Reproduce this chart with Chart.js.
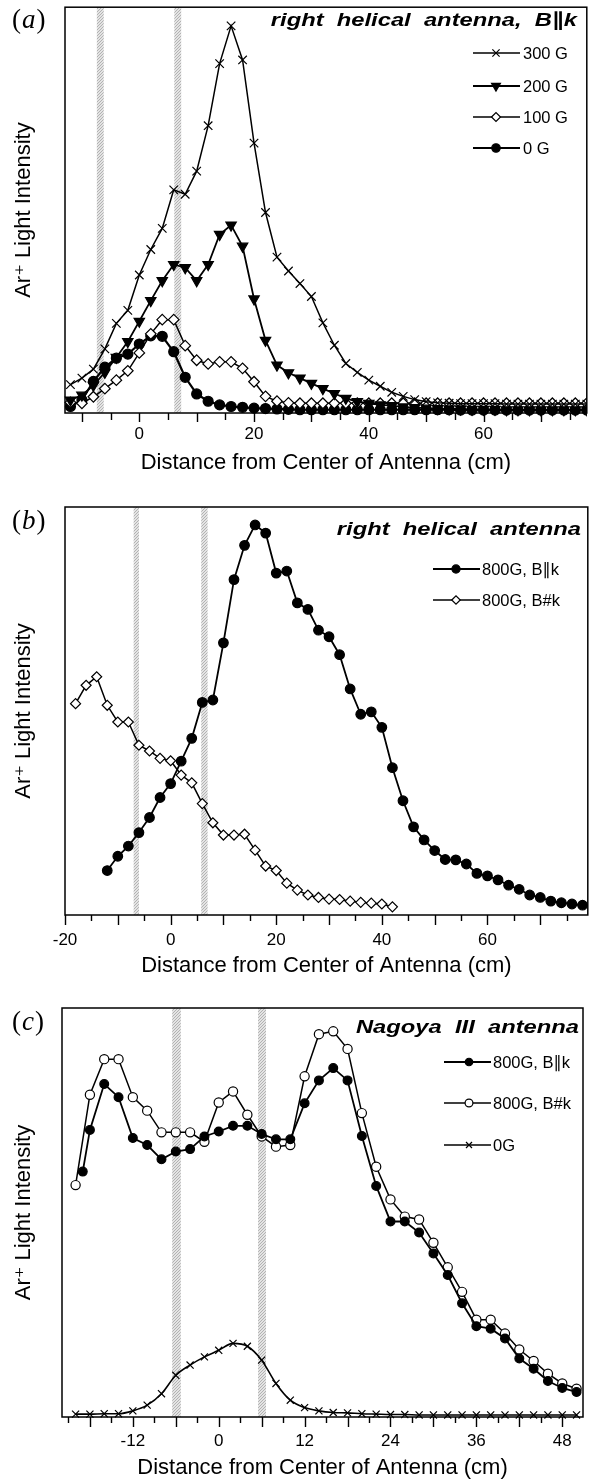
<!DOCTYPE html>
<html>
<head>
<meta charset="utf-8">
<script src="https://cdn.jsdelivr.net/npm/chart.js@4.4.0/dist/chart.umd.min.js"></script>
<style>
  body { margin: 0; background: #fff; width: 594px; height: 1483px; position: relative; overflow: hidden; }
  .panel { position: absolute; left: 0; width: 594px; }
</style>
</head>
<body>
<div class="panel" style="top:0px"><canvas id="chartA" width="594" height="483"></canvas></div>
<div class="panel" style="top:490px"><canvas id="chartB" width="594" height="500"></canvas></div>
<div class="panel" style="top:990px"><canvas id="chartC" width="594" height="493"></canvas></div>
<script>
// ---- panel (a): right helical antenna, B||k
const xA = [-12,-10,-8,-6,-4,-2,0,2,4,6,8,10,12,14,16,18,20,22,24,26,28,30,32,34,36,38,40,42,44,46,48,50,52,54,56,58,60,62,64,66,68,70,72,74,76,78];
const a300G = [7.0,8.6,10.8,15.8,22.1,25.3,34.0,40.3,45.5,55.0,53.9,59.6,70.8,86.1,95.4,87.0,66.5,49.4,38.4,35.0,31.9,28.7,22.2,16.7,12.2,10.0,8.1,6.6,5.1,4.1,3.3,2.8,2.5,2.4,2.3,2.3,2.3,2.3,2.2,2.2,2.2,2.2,2.2,2.2,2.2,2.2];
const a200G = [3.2,4.4,6.8,10.0,13.7,17.6,22.6,27.7,32.6,36.6,35.8,32.6,36.6,44.0,46.3,41.1,28.1,17.9,11.8,9.9,8.6,7.3,6.0,4.8,3.6,2.8,2.4,2.0,1.8,1.5,1.3,1.2,1.1,1.0,1.0,0.9,0.9,0.9,0.8,0.8,0.8,0.8,0.8,0.8,0.8,0.8];
const a100G = [2.6,2.4,4.0,6.0,8.1,10.4,14.8,19.5,23.0,23.0,16.6,13.0,12.1,12.6,12.6,11.0,7.7,4.1,2.9,2.5,2.4,2.4,2.4,2.4,2.4,2.4,2.4,2.4,2.4,2.4,2.4,2.4,2.4,2.4,2.4,2.4,2.4,2.4,2.4,2.4,2.4,2.4,2.4,2.4,2.4,2.4];
const a0G = [1.6,3.2,7.8,11.3,13.5,14.5,17.0,19.0,18.9,15.1,8.8,4.7,2.9,2.0,1.6,1.4,1.2,1.1,1.0,0.9,0.8,0.8,0.8,0.8,0.8,0.8,0.8,0.8,0.8,0.8,0.8,0.8,0.8,0.8,0.7,0.7,0.7,0.7,0.7,0.7,0.7,0.7,0.7,0.7,0.7,0.7];
const labelsA = [0, 20, 40, 60];
const bandsA = [[-7.4, -6.2], [6.1, 7.3]];

// ---- panel (b): right helical antenna, 800 G
const xB1 = [-12,-10,-8,-6,-4,-2,0,2,4,6,8,10,12,14,16,18,20,22,24,26,28,30,32,34,36,38,40,42,44,46,48,50,52,54,56,58,60,62,64,66,68,70,72,74,76,78];
const b800Par = [10.9,14.4,16.9,20.2,23.9,28.8,32.2,37.7,43.3,52.1,52.7,66.7,82.2,90.6,95.6,93.6,83.8,84.3,76.5,74.9,69.8,68.2,63.8,55.4,49.2,49.8,46.0,36.1,28.0,21.6,18.4,15.8,13.6,13.5,12.5,10.2,9.6,8.6,7.3,6.3,4.9,4.3,3.4,3.0,2.7,2.4];
const xB2 = [-18,-16,-14,-12,-10,-8,-6,-4,-2,0,2,4,6,8,10,12,14,16,18,20,22,24,26,28,30,32,34,36,38,40,42];
const b800Perp = [51.8,56.3,58.4,51.4,47.3,47.3,41.6,40.2,38.4,37.8,34.3,32.4,27.3,22.6,19.6,19.6,19.8,15.9,12.0,10.9,7.8,6.1,4.9,4.3,3.9,3.8,3.4,3.1,2.9,2.7,2.0];
const labelsB = [-20, 0, 20, 40, 60];
const bandsB = [[-7.0, -6.0], [5.8, 7.0]];

// ---- panel (c): Nagoya III antenna
const xC1 = [-19,-18,-16,-14,-12,-10,-8,-6,-4,-2,0,2,4,6,8,10,12,14,16,18,20,22,24,26,28,30,32,34,36,38,40,42,44,46,48,50];
const c800Par = [60.0,70.2,81.4,78.2,68.2,66.5,63.0,64.9,65.5,68.6,69.8,71.2,71.2,69.2,67.9,67.9,76.7,82.3,85.3,82.3,68.7,56.5,47.8,47.8,45.1,40.0,34.7,27.8,22.2,21.6,19.2,14.3,11.8,8.8,7.1,6.1];
const xC2 = [-20,-18,-16,-14,-12,-10,-8,-6,-4,-2,0,2,4,6,8,10,12,14,16,18,20,22,24,26,28,30,32,34,36,38,40,42,44,46,48,50];
const c800Perp = [56.7,78.8,87.5,87.5,78.2,74.9,69.6,69.6,69.6,67.3,76.9,79.6,73.9,68.6,66.1,66.5,83.3,93.6,94.3,90.0,74.3,61.2,53.2,49.0,48.3,42.6,36.6,30.6,23.8,23.8,20.4,16.5,13.7,10.6,8.2,6.9];
const c0G = [0.7,0.7,0.8,0.8,1.5,2.9,5.7,10.2,12.7,14.7,16.3,18.0,17.3,13.9,8.2,4.1,2.3,1.5,1.1,1.0,0.8,0.7,0.6,0.6,0.5,0.5,0.5,0.5,0.5,0.5,0.5,0.5,0.5,0.5,0.5,0.5];
const labelsC = [-12, 0, 12, 24, 36, 48];
const bandsC = [[-6.5, -5.3], [5.5, 6.6]];

const SANS = '"Liberation Sans", "DejaVu Sans", sans-serif';
Chart.defaults.color = '#000';
Chart.defaults.font.family = SANS;

function pts(xs, ys) {
  return xs.map((x, i) => ({x: x, y: ys[i]}));
}

function range(start, end, step) {
  const out = [];
  for (let v = start; v <= end + 1e-9; v += step) out.push(v);
  return out;
}

function series(label, xs, ys, style, opts) {
  return Object.assign({
    label: label,
    data: pts(xs, ys),
    borderColor: '#000',
    borderWidth: 1.6,
    pointStyle: style,
    pointRadius: 5,
    pointBorderColor: '#000',
    pointBackgroundColor: '#000',
    pointBorderWidth: 1.2,
    tension: 0,
    clip: {left: 8, top: 8, right: 0, bottom: 8}
  }, opts || {});
}

let stipple = null;
function getStipple(ctx) {
  if (stipple) return stipple;
  const pc = document.createElement('canvas');
  pc.width = 3; pc.height = 3;
  const p = pc.getContext('2d');
  p.fillStyle = '#e4e4e4'; p.fillRect(0, 0, 3, 3);
  p.fillStyle = '#b2b2b2';
  p.fillRect(0, 0, 1, 1); p.fillRect(2, 1, 1, 1); p.fillRect(1, 2, 1, 1);
  stipple = ctx.createPattern(pc, 'repeat');
  return stipple;
}

// bands, frame, ticks, panel tag, note and hand-made legend
const decor = {
  id: 'decor',
  beforeDatasetsDraw(chart, args, o) {
    const {ctx, chartArea: a, scales: {x}} = chart;
    ctx.save();
    ctx.fillStyle = getStipple(ctx);
    o.bands.forEach(b => {
      const l = x.getPixelForValue(b[0]), r = x.getPixelForValue(b[1]);
      ctx.fillRect(l, a.top, r - l, a.bottom - a.top);
    });
    ctx.restore();
  },
  afterDraw(chart, args, o) {
    const {ctx, chartArea: a, scales: {x}} = chart;
    ctx.save();
    ctx.strokeStyle = '#000';
    ctx.lineWidth = 1.5;
    ctx.strokeRect(a.left, a.top, a.right - a.left, a.bottom - a.top);

    ctx.lineWidth = 1.4;
    ctx.beginPath();
    o.ticks.forEach(v => {
      const px = Math.round(x.getPixelForValue(v)) + 0.5;
      const len = v % o.majorStep === 0 ? o.majorLen : o.minorLen;
      ctx.moveTo(px, a.bottom);
      ctx.lineTo(px, a.bottom + len);
    });
    ctx.stroke();

    ctx.fillStyle = '#000';
    ctx.textAlign = 'left';
    ctx.textBaseline = 'middle';
    let px = 12;
    ctx.font = '27px "Liberation Serif", serif';
    ctx.fillText('(', px, o.tagY);
    px += ctx.measureText('(').width + 1;
    ctx.font = 'italic 27px "Liberation Serif", serif';
    ctx.fillText(o.tag, px, o.tagY);
    px += ctx.measureText(o.tag).width + 1;
    ctx.font = '27px "Liberation Serif", serif';
    ctx.fillText(')', px, o.tagY);

    // stretched bold-oblique note, right aligned
    ctx.save();
    ctx.font = 'italic bold 19px ' + SANS;
    ctx.textAlign = 'right';
    ctx.textBaseline = 'alphabetic';
    ctx.translate(o.noteX, o.noteY);
    ctx.scale(1.25, 1);
    ctx.fillText(o.note, 0, 0);
    ctx.restore();

    const lg = o.legend;
    ctx.font = '16.5px ' + SANS;
    ctx.textAlign = 'left';
    ctx.textBaseline = 'middle';
    chart.data.datasets.forEach((ds, i) => {
      const y = lg.ys[i];
      ctx.strokeStyle = '#000';
      ctx.lineWidth = ds.borderWidth;
      ctx.beginPath();
      ctx.moveTo(lg.x1, y);
      ctx.lineTo(lg.x2, y);
      ctx.stroke();
      ctx.fillStyle = ds.pointBackgroundColor;
      ctx.lineWidth = ds.pointBorderWidth;
      Chart.helpers.drawPoint(ctx, {
        pointStyle: ds.pointStyle,
        rotation: ds.pointRotation || 0,
        radius: ds.pointRadius * 0.85,
        borderWidth: ds.pointBorderWidth
      }, lg.mx, y);
      ctx.fillStyle = '#000';
      ctx.fillText(ds.label, lg.tx, y + 1);
    });
    ctx.restore();
  }
};

function makeChart(id, datasets, g, d) {
  d.ticks = g.ticks;
  return new Chart(document.getElementById(id), {
    type: 'line',
    data: {datasets: datasets},
    plugins: [decor],
    options: {
      responsive: false,
      animation: false,
      layout: {padding: {top: g.padTop, right: g.padRight, bottom: 0, left: 0}},
      plugins: {legend: {display: false}, tooltip: {enabled: false}, decor: d},
      scales: {
        x: {
          type: 'linear',
          min: g.min,
          max: g.max,
          afterBuildTicks: s => { s.ticks = g.ticks.map(v => ({value: v})); },
          ticks: {
            autoSkip: false,
            maxRotation: 0,
            padding: g.tickPad,
            font: {size: 17},
            callback: v => g.labels.includes(Math.round(v)) ? String(Math.round(v)) : ''
          },
          grid: {display: false},
          border: {display: false},
          title: {display: true, text: 'Distance from Center of Antenna (cm)', font: {size: 22}, padding: {top: 0, bottom: g.titlePad}},
          afterFit: s => { s.height = g.xH; }
        },
        y: {
          min: 0,
          max: 100,
          ticks: {display: false},
          grid: {display: false},
          border: {display: false},
          title: {display: true, text: 'Ar\u207A Light Intensity', font: {size: 22}, padding: {top: 11, bottom: 0}},
          afterFit: s => { s.width = g.leftW; }
        }
      }
    }
  });
}

makeChart('chartA', [
  series('300 G', xA, a300G, 'crossRot', {pointRadius: 6, pointBorderWidth: 1.2, borderWidth: 1.5}),
  series('200 G', xA, a200G, 'triangle', {pointRotation: 180, pointRadius: 6, borderWidth: 1.8}),
  series('100 G', xA, a100G, 'rectRot', {pointBackgroundColor: '#fff', pointRadius: 5.3, borderWidth: 1.5}),
  series('0 G', xA, a0G, 'circle', {pointRadius: 5, borderWidth: 2.2})
], {
  min: -12.95, max: 78, ticks: range(-10, 75, 5), labels: labelsA,
  padTop: 4, padRight: 3, leftW: 65, xH: 70, tickPad: 3, titlePad: 7
}, {
  bands: bandsA, tag: 'a', tagY: 21, note: 'right  helical  antenna,  B\u2225k', noteX: 577, noteY: 26,
  majorStep: 10, majorLen: 9, minorLen: 7,
  legend: {x1: 473, x2: 520, mx: 496, tx: 523, ys: [53, 86, 117, 148]}
});

makeChart('chartB', [
  series('800G, B\u2225k', xB1, b800Par, 'circle', {pointRadius: 4.8, borderWidth: 1.8}),
  series('800G, B#k', xB2, b800Perp, 'rectRot', {pointBackgroundColor: '#fff', pointRadius: 5, borderWidth: 1.5})
], {
  min: -20, max: 79, ticks: range(-20, 75, 5), labels: labelsB,
  padTop: 17, padRight: 5, leftW: 65, xH: 75, tickPad: 7, titlePad: 11
}, {
  bands: bandsB, tag: 'b', tagY: 32, note: 'right  helical  antenna', noteX: 581, noteY: 45,
  majorStep: 10, majorLen: 10, minorLen: 6,
  legend: {x1: 433, x2: 480, mx: 456, tx: 482, ys: [79, 110]}
});

makeChart('chartC', [
  series('800G, B\u2225k', xC1, c800Par, 'circle', {pointRadius: 4.4, borderWidth: 1.8}),
  series('800G, B#k', xC2, c800Perp, 'circle', {pointBackgroundColor: '#fff', pointRadius: 4.6, borderWidth: 1.5}),
  series('0G', xC2, c0G, 'crossRot', {pointRadius: 5, borderWidth: 1.6, tension: 0.35, cubicInterpolationMode: 'monotone'})
], {
  min: -21.9, max: 50.9, ticks: range(-21, 48, 3), labels: labelsC,
  padTop: 18, padRight: 11, leftW: 62, xH: 66, tickPad: 6, titlePad: 2
}, {
  bands: bandsC, tag: 'c', tagY: 33, note: 'Nagoya  III  antenna', noteX: 579, noteY: 43,
  majorStep: 6, majorLen: 10, minorLen: 6,
  legend: {x1: 444, x2: 491, mx: 469, tx: 493, ys: [72, 113, 155]}
});
</script>
</body>
</html>
